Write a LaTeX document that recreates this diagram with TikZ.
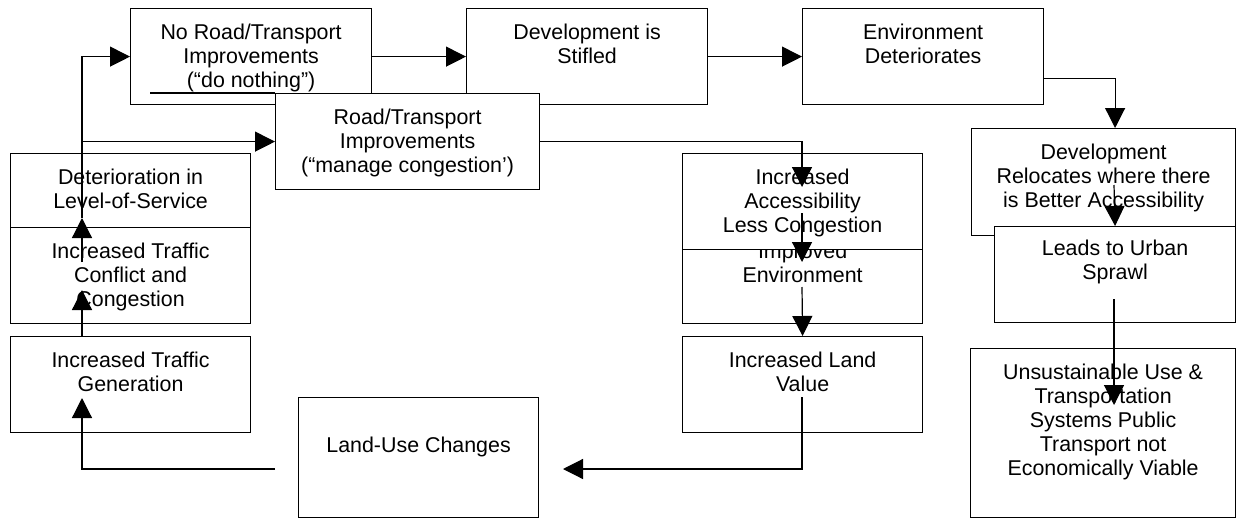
\documentclass[tikz,border=0pt]{standalone}
\usepackage{fontspec}
\setmainfont{Liberation Sans}
\usetikzlibrary{arrows.meta}
\begin{document}
\begin{tikzpicture}[x=1pt,y=-1pt,
  box/.style={draw, line width=1.2pt, fill=white, rectangle, inner sep=0pt, anchor=north west},
  lbl/.style={inner sep=0pt, anchor=north, align=center, font=\fontsize{21.4}{24}\selectfont},
  link/.style={line width=1.2pt},
  arr/.style={line width=1.2pt, -{Triangle[length=20pt 0,width=20pt 0]}}]
\useasboundingbox (0,0) rectangle (1236,519);
\newcommand{\fl}{\rule{0pt}{17pt}}
% top row
\node[box, minimum width=241, minimum height=96] (A) at (130,8) {};
\node[lbl] (At) at ([yshift=-14]A.north) {\fl No Road/Transport\\Improvements\\(“do nothing”)};
\node[box, minimum width=241, minimum height=96] (C) at (466,8) {};
\node[lbl] (Ct) at ([yshift=-14]C.north) {\fl Development is\\Stifled};
\node[box, minimum width=241, minimum height=96] (D) at (802,8) {};
\node[lbl] (Dt) at ([yshift=-14]D.north) {\fl Environment\\Deteriorates};
\node[box, minimum width=264, minimum height=96] (B) at (275,93) {};
\node[lbl] (Bt) at ([yshift=-14]B.north) {\fl Road/Transport\\Improvements\\(“manage congestion’)};
% left column
\node[box, minimum width=240, minimum height=97] (H) at (10,153) {};
\node[lbl] (Ht) at ([yshift=-14]H.north) {\fl Deterioration in\\Level-of-Service};
\node[box, minimum width=240, minimum height=96] (I) at (10,227) {};
\node[lbl] (It) at ([yshift=-14]I.north) {\fl Increased Traffic\\Conflict and\\Congestion};
\node[box, minimum width=240, minimum height=96] (J) at (10,336) {};
\node[lbl] (Jt) at ([yshift=-14]J.north) {\fl Increased Traffic\\Generation};
% middle column
\node[box, minimum width=240, minimum height=96] (N) at (682,227) {};
\node[lbl] (Nt) at ([yshift=-14]N.north) {\fl Improved\\Environment};
\node[box, minimum width=240, minimum height=96] (M) at (682,153) {};
\node[lbl] (Mt) at ([yshift=-14]M.north) {\fl Increased\\Accessibility\\Less Congestion};
\node[box, minimum width=240, minimum height=96] (L) at (682,336) {};
\node[lbl] (Lt) at ([yshift=-14]L.north) {\fl Increased Land\\Value};
\node[box, minimum width=240, minimum height=120] (K) at (298,397) {};
\node[lbl] (Kt) at ([yshift=-38]K.north) {\fl Land-Use Changes};
% right column
\node[box, minimum width=264, minimum height=107] (E) at (971,128) {};
\node[lbl] (Et) at ([yshift=-14]E.north) {\fl Development\\Relocates where there\\is Better Accessibility};
\node[box, minimum width=241, minimum height=96] (F) at (994,226) {};
\node[lbl] (Ft) at ([yshift=-12]F.north) {\fl Leads to Urban\\Sprawl};
\node[box, minimum width=265, minimum height=169] (G) at (970,348) {};
\node[lbl] (Gt) at ([yshift=-14]G.north) {\fl Unsustainable Use \&\\Transportation\\Systems Public\\Transport not\\Economically Viable};
% stray line under A
\coordinate (a1) at (150,93);
\draw[link] (a1) -- (B.north west);
% coordinates for connector ends
\coordinate (h1) at (82,218);
\coordinate (i1) at (82,262);
\coordinate (i2) at (82,290);
\coordinate (j1) at (82,398);
\coordinate (k1) at (275,469);
\coordinate (k2) at (563,469);
\coordinate (l1) at (802,397);
\coordinate (m1) at (802,187);
\coordinate (m2) at (802,213);
\coordinate (n1) at (802,262);
\coordinate (n2) at (802,287);
\coordinate (e1) at (1114,185);
\coordinate (f1) at (1114,299);
\coordinate (g1) at (1114,405);
% connectors
\draw[arr] (h1) |- (A.west);
\draw[arr] (h1 |- B.west) -- (B.west);
\draw[arr] (i1) -- (h1);
\draw[arr] (J.north -| h1) -- (i2);
\draw[arr] (k1) -| (j1);
\draw[arr] (A.east) -- (C.west);
\draw[arr] (C.east) -- (D.west);
\draw[arr] ([yshift=-22]D.east) -| (F.north |- E.north);
\draw[arr] (e1) -- (F.north);
\draw[arr] (f1) -- (g1);
\draw[arr] (B.east) -| (m1);
\draw[arr] (m2) -- (n1);
\draw[arr] (n2) -- (L.north);
\draw[arr] (l1) |- (k2);
\end{tikzpicture}
\end{document}
